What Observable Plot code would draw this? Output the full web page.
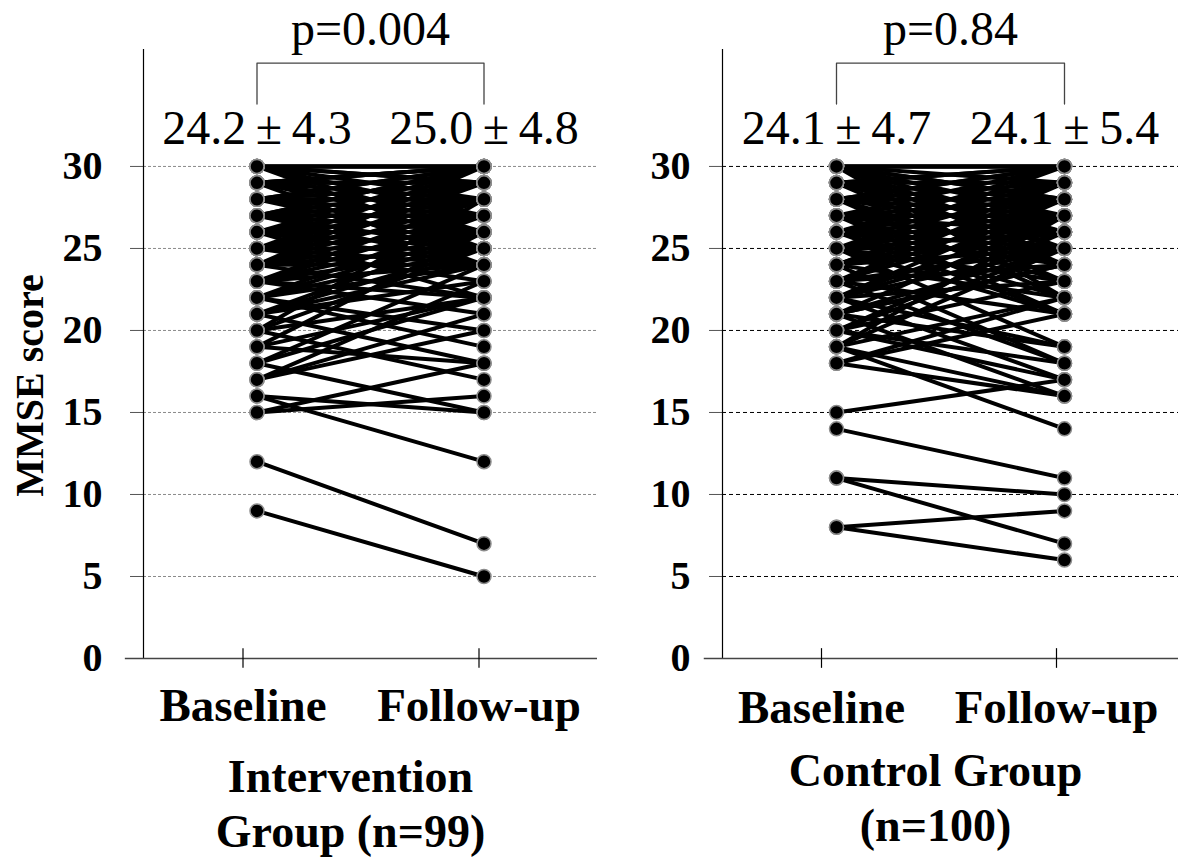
<!DOCTYPE html>
<html><head><meta charset="utf-8">
<script src="https://cdn.jsdelivr.net/npm/d3@7"></script>
<script src="https://cdn.jsdelivr.net/npm/@observablehq/plot@0.6"></script>
<style>
body{margin:0;background:#fff;}
#wrap{display:flex;width:1180px;height:859px;overflow:hidden;}
#wrap svg{overflow:visible;}
</style></head><body><div id="wrap"></div>
<script>
// ---- data ----
const timepoints = ["Baseline", "Follow-up"];
const yTicks = [0, 5, 10, 15, 20, 25, 30];

const intBaseline = [
30,30,30,30,30,30,30,30,30,
29,29,29,29,29,29,29,29,29,
28,28,28,28,28,28,28,28,
27,27,27,27,27,27,27,27,27,
26,26,26,26,26,26,26,26,26,
25,25,25,25,25,25,25,25,25,
24,24,24,24,24,24,24,24,24,
23,23,23,23,23,23,23,
22,22,22,22,22,22,
21,21,21,21,21,
20,20,20,20,
19,19,19,
18,18,18,
17,17,17,
16,16,
15,15,
12,
9];
const intFollowup = [
30,30,29,28,27,25,30,29,26,
30,30,29,28,27,26,30,24,29,
30,29,28,27,26,30,25,28,
30,29,28,27,26,25,30,28,24,
30,29,28,27,26,25,24,28,22,
30,28,27,26,25,24,29,23,27,
30,28,27,26,25,24,29,22,26,
27,26,25,24,28,22,21,
27,25,24,26,20,19,
26,25,24,18,23,
28,25,17,22,
26,22,18,
24,22,15,
23,20,21,
15,12,
18,16,
7,
5];

const ctlBaseline = [
30,30,30,30,30,30,30,30,30,30,30,
29,29,29,29,29,29,29,29,
28,28,28,28,28,28,28,28,
27,27,27,27,27,27,27,27,
26,26,26,26,26,26,26,26,26,
25,25,25,25,25,25,25,25,25,
24,24,24,24,24,24,24,24,
23,23,23,23,23,23,23,
22,22,22,22,22,22,22,
21,21,21,21,21,21,
20,20,20,20,20,
19,19,19,19,19,
18,18,18,
15,
14,
11,11,
8,8];
const ctlFollowup = [
30,29,28,27,26,25,30,24,22,30,28,
30,29,27,26,25,23,30,28,
30,29,28,26,24,22,27,30,
30,29,28,27,25,23,21,26,
30,29,28,27,26,24,22,21,25,
30,29,28,27,25,23,21,19,26,
29,29,28,26,25,22,18,27,
29,28,27,25,21,18,24,
26,28,27,25,23,19,17,
24,27,25,24,19,16,
25,26,23,18,17,
27,25,22,16,14,
21,22,16,
17,
11,
10,7,
9,6];

const intMeans = ["24.2\u2009±\u20094.3", "25.0\u2009±\u20094.8"];
const ctlMeans = ["24.1\u2009±\u20094.7", "24.1\u2009±\u20095.4"];
const intP = "p=0.004";
const ctlP = "p=0.84";
const intTitle = "Intervention\nGroup (n=99)";
const ctlTitle = "Control Group\n(n=100)";

// ---- drawing ----
const serif = "'Liberation Serif','Times New Roman',Times,serif";
const YMAX = 37.13;

function panel(cfg) {
  const rows = [];
  cfg.baseline.forEach((b, i) => {
    rows.push({id: i, t: 0, score: b});
    rows.push({id: i, t: 1, score: cfg.followup[i]});
  });
  const bracket = [{t: 0, y: 33.8}, {t: 0, y: 36.3}, {t: 1, y: 36.3}, {t: 1, y: 33.8}];
  const marks = [
    Plot.gridY(yTicks.filter(d => d > 0), {stroke: cfg.gridColor, strokeOpacity: 1, strokeWidth: 1, strokeDasharray: cfg.gridDash}),
    Plot.axisY(yTicks, {label: null, tickSize: 13, tickPadding: cfg.tickPadding, fontSize: 40, fontWeight: "bold", fontFamily: serif, stroke: "#555"}),
    Plot.ruleX([-0.5], {y1: 0, y2: YMAX, stroke: "#000", strokeWidth: 1.2}),
    Plot.ruleY([0], {x1: -0.58, x2: 1.5, stroke: "#444", strokeWidth: 1.6}),
    ...timepoints.map((lab, i) => Plot.ruleX([i], {y1: -0.6, y2: 0.6, dx: cfg.tickShift[i], stroke: "#000", strokeWidth: 1.2})),
    ...timepoints.map((lab, i) => Plot.text([lab], {x: () => i, y: () => 0, dy: cfg.labelDy, dx: cfg.tickShift[i], fontSize: 47, fontWeight: "bold", fontFamily: serif, fill: "#000"})),
    Plot.line(rows, {x: "t", y: "score", z: "id", stroke: "#000", strokeWidth: 4}),
    Plot.dot(rows, {x: "t", y: "score", r: 7, fill: "#000", stroke: "#8c8c8c", strokeWidth: 1.5}),
    Plot.text(cfg.means, {x: (d, i) => i, y: () => 30, dy: -38, text: d => d, fontSize: 48, fontFamily: serif, fill: "#000"}),
    Plot.line(bracket, {x: "t", y: "y", stroke: "#444", strokeWidth: 1.3}),
    Plot.text([cfg.p], {x: () => 0.5, frameAnchor: "top", lineAnchor: "middle", dy: -20, text: d => d, fontSize: 48, fontFamily: serif, fill: "#000"}),
    Plot.text([cfg.title], {x: () => 0.5, y: () => 0, dy: cfg.titleDy, dx: cfg.titleDx, text: d => d, fontSize: 46, fontWeight: "bold", fontFamily: serif, lineHeight: 1.2, fill: "#000"})
  ];
  if (cfg.yLabel) {
    marks.push(Plot.text([cfg.yLabel], {x: () => -1.0, y: () => 16.65, rotate: -90, text: d => d, fontSize: 40, fontWeight: "bold", fontFamily: serif, fill: "#000"}));
  }
  return Plot.plot({
    width: cfg.width, height: 859,
    marginLeft: cfg.marginLeft, marginRight: cfg.marginRight, marginTop: 49, marginBottom: 201,
    x: {domain: [-0.5, 1.5], axis: null},
    y: {domain: [0, YMAX], axis: null},
    style: {background: "transparent", overflow: "visible"},
    marks
  });
}

const wrap = document.getElementById("wrap");
wrap.appendChild(panel({
  baseline: intBaseline, followup: intFollowup, means: intMeans, p: intP, title: intTitle,
  width: 600, marginLeft: 143, marginRight: 3, gridColor: "#8a8a8a", gridDash: "3,2",
  tickPadding: 28, tickShift: [-14, -5], labelDy: 47, titleDy: 143, titleDx: -20, yLabel: "MMSE score"
}));
wrap.appendChild(panel({
  baseline: ctlBaseline, followup: ctlFollowup, means: ctlMeans, p: ctlP, title: ctlTitle,
  width: 580, marginLeft: 122, marginRight: 2, gridColor: "#000", gridDash: "4,3",
  tickPadding: 19, tickShift: [-15, -8], labelDy: 49, titleDy: 137, titleDx: -15
}));
</script></body></html>
